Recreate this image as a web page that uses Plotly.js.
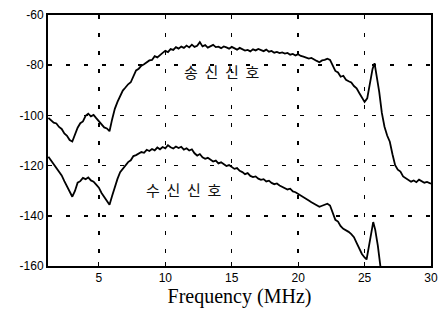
<!DOCTYPE html>
<html>
<head>
<meta charset="utf-8">
<script src="https://cdn.plot.ly/plotly-3.0.1.min.js"></script>
<style>html,body{margin:0;padding:0;background:#fff;}#chart{width:438px;height:315px;}</style>
</head>
<body>
<div id="chart"></div>
<script>
var txFreq = [1.2,1.4,1.6,1.8,2.0,2.2,2.4,2.6,2.8,3.0,3.2,3.4,3.6,3.8,4.0,4.2,4.4,4.6,4.8,5.0,5.2,5.4,5.6,5.8,6.0,6.2,6.4,6.6,6.8,7.0,7.2,7.4,7.6,7.8,8.0,8.2,8.4,8.6,8.8,9.0,9.2,9.4,9.6,9.8,10.0,10.2,10.4,10.6,10.8,11.0,11.2,11.4,11.6,11.8,12.0,12.2,12.4,12.6,12.8,13.0,13.2,13.4,13.6,13.8,14.0,14.2,14.4,14.6,14.8,15.0,15.2,15.4,15.6,15.8,16.0,16.2,16.4,16.6,16.8,17.0,17.2,17.4,17.6,17.8,18.0,18.2,18.4,18.6,18.8,19.0,19.2,19.4,19.6,19.8,20.0,20.2,20.4,20.6,20.8,21.0,21.2,21.4,21.6,21.8,22.0,22.2,22.4,22.6,22.8,23.0,23.2,23.4,23.6,23.8,24.0,24.2,24.4,24.6,24.8,25.0,25.2,25.4,25.6,25.75,25.9,26.1,26.3,26.5,26.7,26.9,27.1,27.3,27.5,27.7,27.9,28.1,28.3,28.5,28.7,28.9,29.1,29.3,29.5,29.7,29.9,30.0];
var txLevel = [-101.0,-101.8,-102.9,-103.2,-104.6,-105.4,-107.2,-108.1,-109.8,-110.4,-107.6,-104.9,-103.1,-102.4,-100.2,-99.3,-100.4,-99.8,-101.1,-102.3,-103.6,-104.8,-105.2,-106.3,-101.5,-97.4,-94.6,-92.3,-90.1,-88.9,-87.6,-86.8,-84.2,-82.1,-81.4,-80.2,-79.6,-78.8,-78.1,-77.9,-76.4,-76.9,-75.8,-75.1,-74.3,-74.8,-73.6,-73.9,-72.8,-73.4,-72.6,-73.1,-72.2,-72.9,-71.8,-72.7,-72.3,-70.8,-72.5,-72.0,-73.0,-72.4,-71.9,-72.8,-72.6,-73.2,-72.5,-72.9,-73.4,-72.7,-73.3,-73.8,-73.1,-73.6,-74.2,-73.9,-74.5,-73.7,-74.1,-73.5,-74.0,-74.4,-73.8,-74.6,-74.3,-75.0,-74.7,-75.2,-74.9,-75.4,-75.1,-75.8,-75.5,-76.1,-75.6,-76.3,-76.6,-76.9,-77.4,-77.1,-77.8,-78.3,-78.8,-78.1,-77.9,-77.4,-77.9,-80.4,-82.3,-82.9,-84.6,-84.2,-85.8,-86.4,-86.9,-88.3,-89.2,-91.1,-93.0,-94.6,-93.2,-87.5,-81.5,-79.2,-83.5,-90.5,-99.0,-104.5,-108.0,-110.5,-115.5,-119.8,-121.6,-122.4,-124.3,-125.0,-125.8,-126.4,-125.9,-126.6,-125.6,-126.1,-126.8,-126.5,-127.0,-127.2];

var rxFreq = [1.2,1.4,1.6,1.8,2.0,2.2,2.4,2.6,2.8,3.0,3.2,3.4,3.6,3.8,4.0,4.2,4.4,4.6,4.8,5.0,5.2,5.4,5.6,5.8,6.0,6.2,6.4,6.6,6.8,7.0,7.2,7.4,7.6,7.8,8.0,8.2,8.4,8.6,8.8,9.0,9.2,9.4,9.6,9.8,10.0,10.2,10.4,10.6,10.8,11.0,11.2,11.4,11.6,11.8,12.0,12.2,12.4,12.6,12.8,13.0,13.2,13.4,13.6,13.8,14.0,14.2,14.4,14.6,14.8,15.0,15.2,15.4,15.6,15.8,16.0,16.2,16.4,16.6,16.8,17.0,17.2,17.4,17.6,17.8,18.0,18.2,18.4,18.6,18.8,19.0,19.2,19.4,19.6,19.8,20.0,20.2,20.4,20.6,20.8,21.0,21.2,21.4,21.6,21.8,22.0,22.2,22.4,22.6,22.8,23.0,23.2,23.4,23.6,23.8,24.0,24.2,24.4,24.6,24.8,25.0,25.15,25.3,25.5,25.65,25.8,26.0,26.2,26.4];
var rxLevel = [-116.5,-118.0,-119.4,-120.6,-122.3,-123.9,-126.2,-128.4,-130.7,-132.4,-130.1,-126.8,-126.2,-124.9,-125.4,-124.7,-125.9,-126.4,-127.6,-128.8,-130.9,-132.6,-134.3,-135.6,-132.0,-128.4,-125.3,-122.6,-121.2,-119.8,-118.6,-117.9,-116.2,-115.8,-115.3,-114.6,-114.9,-113.7,-114.2,-113.4,-113.9,-112.8,-113.5,-112.6,-113.1,-111.9,-112.7,-113.2,-112.4,-113.0,-112.5,-113.6,-113.1,-114.0,-113.5,-115.1,-116.0,-115.4,-116.7,-117.3,-116.9,-117.8,-118.4,-118.0,-119.1,-118.7,-119.6,-120.2,-119.8,-120.7,-121.3,-121.0,-122.1,-122.6,-123.4,-123.0,-124.1,-124.6,-124.3,-125.2,-125.7,-125.4,-126.3,-126.0,-126.9,-127.4,-127.1,-127.9,-128.4,-128.8,-129.5,-129.2,-130.3,-130.6,-131.2,-131.8,-132.5,-133.2,-133.9,-134.6,-135.1,-135.8,-136.4,-136.0,-135.6,-135.2,-135.9,-139.0,-141.6,-142.3,-144.1,-145.2,-145.7,-146.4,-147.3,-148.5,-150.8,-152.9,-155.2,-156.6,-157.4,-153.0,-146.5,-142.5,-145.5,-152.0,-160.5,-166.0];

var xTicks = [5,10,15,20,25,30];
var yTicks = [-60,-80,-100,-120,-140,-160];
var labels = ["송\u00a0\u00a0신\u00a0\u00a0신\u00a0\u00a0호","수\u00a0\u00a0신\u00a0\u00a0신\u00a0\u00a0호"];
var labelX = [14.3,11.4];
var labelY = [-82.7,-129.7];

var traces = [
  {x: txFreq, y: txLevel, type: 'scatter', mode: 'lines', line: {color: '#000', width: 1.8}, showlegend: false, hoverinfo: 'skip'},
  {x: rxFreq, y: rxLevel, type: 'scatter', mode: 'lines', line: {color: '#000', width: 1.8}, showlegend: false, hoverinfo: 'skip'}
];

var axisCommon = {
  showline: true, mirror: true, linecolor: '#000', linewidth: 2,
  ticks: 'inside', ticklen: 4, tickcolor: '#000', tickwidth: 1,
  showgrid: true, gridcolor: '#000', gridwidth: 1.5, griddash: '4px,14px',
  zeroline: false,
  tickfont: {family: 'Liberation Sans, Arial, sans-serif', size: 12, color: '#000'}
};

var layout = {
  width: 438, height: 315,
  margin: {l: 48, r: 7, t: 15, b: 49},
  paper_bgcolor: '#fff', plot_bgcolor: '#fff',
  xaxis: Object.assign({}, axisCommon, {
    range: [1.17, 30], tickvals: xTicks, ticktext: xTicks.map(String),
    title: {text: 'Frequency (MHz)', font: {family: 'Liberation Serif, Times New Roman, serif', size: 20, color: '#000'}, standoff: 3}
  }),
  yaxis: Object.assign({}, axisCommon, {
    range: [-160, -60], tickvals: yTicks, ticktext: yTicks.map(String)
  }),
  annotations: labels.map(function(t, i) {
    return {x: labelX[i], y: labelY[i], xref: 'x', yref: 'y', text: t, showarrow: false,
      font: {family: 'Noto Sans CJK KR, sans-serif', size: 15, color: '#111'}};
  })
};

Plotly.newPlot('chart', traces, layout, {staticPlot: true, displayModeBar: false});
</script>
</body>
</html>
